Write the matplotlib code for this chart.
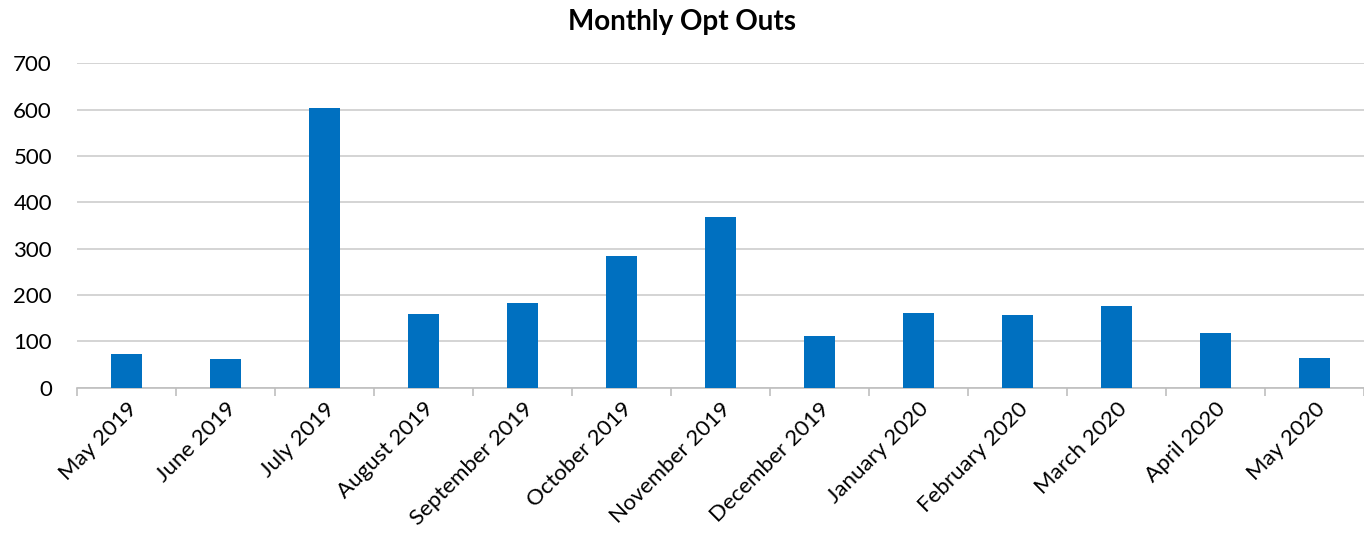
import matplotlib
matplotlib.use("Agg")
import matplotlib.pyplot as plt
import numpy as np

months = ["May 2019", "June 2019", "July 2019", "August 2019", "September 2019",
          "October 2019", "November 2019", "December 2019", "January 2020",
          "February 2020", "March 2020", "April 2020", "May 2020"]
opt_outs = [73, 62, 603, 158, 183, 285, 368, 112, 161, 156, 176, 117, 64]

plt.rcParams['font.family'] = ['Lato', 'DejaVu Sans']

fig = plt.figure(figsize=(13.64, 5.34), dpi=100)
ax = fig.add_axes([77/1364, 1-387.7/534, 1-77/1364, (387.7-63.3)/534])

x = np.arange(len(months))
ax.bar(x, opt_outs, width=0.31, color="#0070C0", zorder=3)

ax.set_ylim(0, 700)
ax.set_xlim(-0.5, len(months) - 0.5 - 9/99.75)
ax.set_yticks(range(0, 701, 100))
ax.yaxis.grid(True, color="#d4d4d4", linewidth=1.4, zorder=0)
ax.set_axisbelow(True)

ax.set_xticks(np.arange(-0.5, len(months), 1.0))
ax.set_xticklabels([])
ax.set_xticks(x, minor=True)
ax.set_xticklabels(months, minor=True, rotation=45, ha="right", va="top",
                   rotation_mode="anchor", fontsize=16, color="#000000")
ax.tick_params(axis="x", which="major", length=6, color="#bfbfbf", width=1.2)
ax.tick_params(axis="x", which="minor", length=0, pad=8)
ax.tick_params(axis="y", length=0, labelsize=16, pad=18, labelcolor="#000000")

for s in ["top", "right", "left"]:
    ax.spines[s].set_visible(False)
ax.spines["bottom"].set_color("#bfbfbf")
ax.spines["bottom"].set_linewidth(1.2)

fig.text(0.5, 1-22/534, "Monthly Opt Outs", ha="center", va="center",
         fontsize=20, fontweight="bold")

fig.savefig("out.png", dpi=100)
